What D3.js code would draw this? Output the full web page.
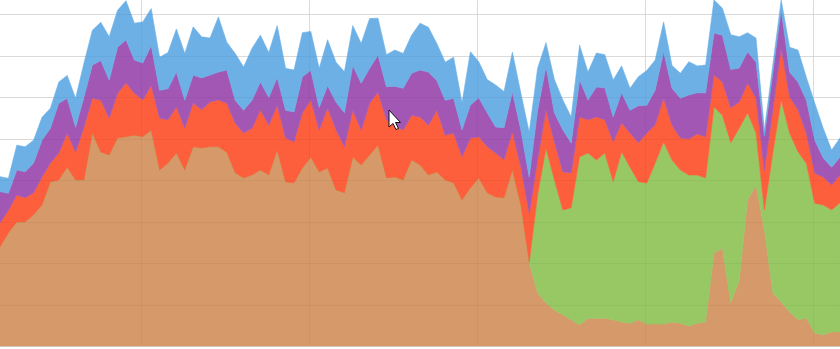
<!DOCTYPE html>
<html>
<head>
<meta charset="utf-8">
<script src="https://cdn.jsdelivr.net/npm/d3@7"></script>
<style>
  html, body { margin: 0; padding: 0; background: #fff; }
  svg { display: block; }
</style>
</head>
<body>
<svg id="chart" width="840" height="349"></svg>
<script>
// Stacked layers, bottom to top, one value per sample
const baseLayer = [
  23.9,27.2,29.9,29.9,31.6,34.0,39.5,40.0,43.1,40.0,
  40.0,51.3,46.7,46.0,50.1,50.4,50.8,50.4,52.0,42.4,
  44.1,46.5,42.4,48.0,47.7,48.0,48.0,46.7,41.7,40.5,
  41.2,42.4,41.2,47.2,39.5,39.3,42.9,45.5,41.9,42.9,
  37.6,36.9,45.5,43.6,46.0,48.4,40.5,40.7,40.0,44.8,
  43.6,41.2,41.9,40.0,39.3,35.2,38.1,40.5,36.9,35.9,
  35.7,42.4,34.0,20.2,12.8,10.4,8.7,7.5,6.3,5.1,
  6.7,6.7,6.7,6.3,5.8,5.5,6.3,5.3,5.3,5.3,
  5.8,5.5,4.8,5.5,5.8,22.4,23.6,10.4,15.9,35.2,
  38.8,28.0,12.8,10.6,8.2,6.3,6.7,3.1,2.7,3.4,
  3.4
];
const greenLayer = [
  0,0,0,0,0,0,0,0,0,0,
  0,0,0,0,0,0,0,0,0,0,
  0,0,0,0,0,0,0,0,0,0,
  0,0,0,0,0,0,0,0,0,0,
  0,0,0,0,0,0,0,0,0,0,
  0,0,0,0,0,0,0,0,0,0,
  0,0,0,0,23.6,37.3,31.3,25.3,27.0,40.5,
  39.8,38.1,39.8,33.3,41.0,37.6,33.3,34.0,38.8,43.9,
  39.0,36.9,36.4,35.7,34.7,35.2,32.0,38.6,36.6,21.0,
  12.5,4.8,33.7,48.7,43.1,40.5,37.3,31.3,31.3,29.4,
  31.1
];
const redLayer = [
  5.8,5.5,6.5,5.8,5.3,6.7,4.6,6.5,8.2,6.7,
  12.8,8.4,12.5,8.9,10.8,13.0,10.1,8.9,10.8,12.5,
  10.4,11.1,10.1,10.6,9.2,10.8,11.3,11.8,12.0,10.8,
  11.3,14.5,12.0,10.8,10.6,9.9,13.3,13.7,10.1,14.5,
  14.5,11.1,11.3,8.4,12.5,12.8,14.0,12.5,12.0,10.8,
  11.6,12.0,14.9,10.8,12.0,10.4,12.0,9.9,11.1,10.6,
  9.2,9.2,9.2,11.8,8.4,9.2,9.2,9.2,8.4,9.6,
  8.0,10.4,8.0,9.6,7.0,8.2,9.4,12.0,9.2,10.6,
  8.4,7.7,8.7,9.9,9.9,7.7,8.0,8.4,6.3,7.2,
  8.4,9.6,10.4,12.5,8.7,10.1,7.2,7.2,6.7,6.0,
  6.7
];
const purpleLayer = [
  7.5,4.1,6.0,6.3,7.2,8.9,8.4,12.0,8.4,6.0,
  7.2,8.0,9.6,9.2,11.1,10.4,8.0,8.9,9.6,6.7,
  7.5,8.4,6.7,6.7,7.7,6.5,6.7,8.0,5.5,5.5,
  6.7,6.7,6.7,6.7,6.7,7.2,8.7,7.2,5.5,5.3,
  6.7,8.2,10.8,11.3,8.4,8.9,8.0,9.4,10.1,10.1,
  11.3,12.8,7.2,8.4,8.4,6.5,8.0,9.4,8.2,6.3,
  7.7,9.6,8.9,8.7,12.0,10.4,7.0,10.1,7.2,8.9,
  4.8,7.2,7.7,6.0,7.2,5.5,8.9,6.7,8.4,11.1,
  8.9,9.6,10.6,9.9,10.6,10.1,11.3,9.2,8.2,7.5,
  8.7,8.2,8.9,9.2,6.0,6.7,8.0,8.0,4.6,4.3,
  4.3
];
const blueLayer = [
  3.6,3.6,6.0,6.0,5.5,5.5,4.8,5.1,5.5,7.0,
  8.2,8.4,9.2,10.4,8.9,9.4,8.9,9.9,8.9,8.0,
  8.7,10.4,11.3,11.6,9.9,8.9,13.3,6.7,11.3,10.4,
  12.5,11.3,10.8,12.5,10.1,10.1,10.6,9.4,9.4,11.1,
  9.6,9.9,9.6,9.6,12.0,8.9,7.7,8.7,8.4,9.2,
  11.3,10.8,8.9,9.2,9.9,6.5,12.8,8.7,8.0,10.1,
  8.7,9.6,8.9,10.8,10.1,5.8,8.0,7.2,6.3,8.4,
  6.7,8.2,8.0,8.9,6.5,5.3,7.0,8.4,7.2,7.2,
  5.5,6.0,8.0,6.5,6.7,8.0,6.5,8.4,7.5,4.6,
  5.8,1.4,1.9,2.4,6.0,7.7,5.5,8.9,7.2,4.1,
  4.6
];

const seriesKeys = ["base", "green", "red", "purple", "blue"];
const seriesColors = ["#d6996a", "#97c864", "#fd5e3c", "#a257b5", "#6cb0e6"];
const yTicks = [0, 10, 20, 30, 40, 50, 60, 70, 80];
const xTicks = [16.8, 36.8, 56.8, 76.8, 96.8];

const W = 840, H = 349;
const svg = d3.select("#chart");

const rows = baseLayer.map((v, i) => ({
  i,
  base: v,
  green: greenLayer[i],
  red: redLayer[i],
  purple: purpleLayer[i],
  blue: blueLayer[i]
}));

const x = d3.scaleLinear().domain([0, rows.length - 1]).range([0, W]);
const y = d3.scaleLinear().domain([0, 80]).range([346, 14]);

const stacked = d3.stack().keys(seriesKeys)(rows);

const area = d3.area()
  .x(d => x(d.data.i))
  .y0(d => y(d[0]))
  .y1(d => y(d[1]))
  .curve(d3.curveLinear);

// faint grid behind the layers (shows on the white background)
const gridBack = svg.append("g").attr("stroke", "#e3e3e3").attr("stroke-width", 1);
gridBack.selectAll("line.h")
  .data(yTicks)
  .join("line")
  .attr("class", "h")
  .attr("x1", 0).attr("x2", W)
  .attr("y1", d => Math.round(y(d)) + 0.5)
  .attr("y2", d => Math.round(y(d)) + 0.5);
gridBack.selectAll("line.v")
  .data(xTicks)
  .join("line")
  .attr("class", "v")
  .attr("y1", 0).attr("y2", y(0))
  .attr("x1", d => Math.round(x(d)) + 0.5)
  .attr("x2", d => Math.round(x(d)) + 0.5);

svg.append("g")
  .selectAll("path")
  .data(stacked)
  .join("path")
  .attr("d", area)
  .attr("fill", (d, k) => seriesColors[k])
  .attr("stroke", (d, k) => seriesColors[k])
  .attr("stroke-width", 0.6);

// very light grid traces over the layers
const gridFront = svg.append("g").attr("stroke", "#000").attr("stroke-opacity", 0.04).attr("stroke-width", 1);
gridFront.selectAll("line.h")
  .data(yTicks)
  .join("line")
  .attr("class", "h")
  .attr("x1", 0).attr("x2", W)
  .attr("y1", d => Math.round(y(d)) + 0.5)
  .attr("y2", d => Math.round(y(d)) + 0.5);
gridFront.selectAll("line.v")
  .data(xTicks)
  .join("line")
  .attr("class", "v")
  .attr("y1", 0).attr("y2", y(0))
  .attr("x1", d => Math.round(x(d)) + 0.5)
  .attr("x2", d => Math.round(x(d)) + 0.5);

// mouse pointer
svg.append("path")
  .attr("transform", "translate(389,110)")
  .attr("d", "M0,0 L0,17 L4,13.5 L7,19.5 L9.5,18.5 L6.5,12.5 L11.5,12.5 Z")
  .attr("fill", "#fff")
  .attr("stroke", "#111")
  .attr("stroke-width", 1)
  .attr("stroke-linejoin", "round");
</script>
</body>
</html>
